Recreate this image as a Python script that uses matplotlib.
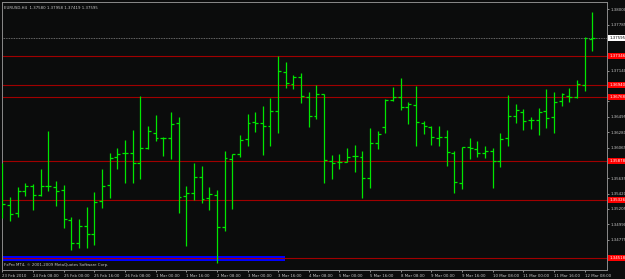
import matplotlib.pyplot as plt
import matplotlib.transforms as mtransforms
from matplotlib.patches import Rectangle

# EURUSD H4 bars, 23 Feb 2010 16:00 .. 12 Mar 2010
opens = [1.35162, 1.35260, 1.35148, 1.35456, 1.35526, 1.35400, 1.35526, 1.35512, 1.35470, 1.35050,
         1.34728, 1.34966, 1.34854, 1.35316, 1.35540, 1.35932, 1.35988, 1.35988, 1.35848, 1.36058,
         1.36268, 1.36198, 1.36198, 1.36408, 1.35386, 1.35428, 1.35652, 1.35358, 1.35400, 1.34952,
         1.35904, 1.35974, 1.36184, 1.36422, 1.36408, 1.36366, 1.36576, 1.37122, 1.36954, 1.37052,
         1.36772, 1.36506, 1.36814, 1.35876, 1.35862, 1.35862, 1.35946, 1.35932, 1.35638, 1.36128,
         1.36352, 1.36730, 1.36772, 1.36632, 1.36660, 1.36408, 1.36352, 1.36198, 1.36212, 1.35988,
         1.35568, 1.36072, 1.36044, 1.35988, 1.36016, 1.35876, 1.36198, 1.36506, 1.36562, 1.36450,
         1.36450, 1.36576, 1.36492, 1.36716, 1.36786, 1.36772, 1.36940, 1.37580]
highs = [1.35848, 1.35372, 1.35512, 1.35568, 1.35554, 1.35764, 1.36296, 1.35596, 1.35540, 1.35092,
         1.35064, 1.35232, 1.35442, 1.35764, 1.35988, 1.36058, 1.36170, 1.36310, 1.36786, 1.36366,
         1.36520, 1.36212, 1.36562, 1.36492, 1.35526, 1.35848, 1.35806, 1.35512, 1.35470, 1.36016,
         1.35974, 1.36240, 1.36534, 1.36562, 1.36646, 1.36758, 1.37346, 1.37262, 1.37080, 1.37108,
         1.36842, 1.36940, 1.36814, 1.35960, 1.35974, 1.36058, 1.36100, 1.36016, 1.36338, 1.36296,
         1.36744, 1.36912, 1.37038, 1.36702, 1.36926, 1.36436, 1.36366, 1.36366, 1.36310, 1.36016,
         1.36072, 1.36198, 1.36156, 1.36086, 1.36058, 1.36268, 1.36800, 1.36674, 1.36604, 1.36492,
         1.36618, 1.36884, 1.36842, 1.36828, 1.36898, 1.37010, 1.37612, 1.37958]
lows = [1.35078, 1.35036, 1.35092, 1.35386, 1.35190, 1.35386, 1.35456, 1.35246, 1.34938, 1.34630,
        1.34658, 1.34658, 1.34700, 1.35218, 1.35358, 1.35764, 1.35568, 1.35568, 1.35624, 1.36044,
        1.36156, 1.35946, 1.35904, 1.35148, 1.34686, 1.35330, 1.35288, 1.35190, 1.34448, 1.34896,
        1.35204, 1.35932, 1.36086, 1.36282, 1.35960, 1.36086, 1.36268, 1.36898, 1.36884, 1.36688,
        1.36352, 1.36464, 1.35568, 1.35624, 1.35764, 1.35862, 1.35722, 1.35358, 1.35498, 1.36044,
        1.36268, 1.36716, 1.36590, 1.36394, 1.36086, 1.36254, 1.36100, 1.36086, 1.35806, 1.35428,
        1.35484, 1.35904, 1.35932, 1.35918, 1.35498, 1.35792, 1.36086, 1.36408, 1.36310, 1.36324,
        1.36240, 1.36338, 1.36268, 1.36646, 1.36702, 1.36758, 1.36856, 1.37419]
closes = [1.35274, 1.35134, 1.35456, 1.35526, 1.35400, 1.35526, 1.35526, 1.35456, 1.35064, 1.34728,
          1.34966, 1.34854, 1.35302, 1.35526, 1.35918, 1.35974, 1.35988, 1.35848, 1.36058, 1.36296,
          1.36198, 1.36198, 1.36394, 1.35372, 1.35428, 1.35652, 1.35344, 1.35414, 1.34952, 1.35918,
          1.35974, 1.36170, 1.36408, 1.36408, 1.36366, 1.36576, 1.37136, 1.36968, 1.37052, 1.36786,
          1.36506, 1.36814, 1.35890, 1.35848, 1.35862, 1.35932, 1.35946, 1.35638, 1.36128, 1.36254,
          1.36730, 1.36772, 1.36632, 1.36674, 1.36422, 1.36366, 1.36212, 1.36212, 1.36002, 1.35582,
          1.36072, 1.36058, 1.35988, 1.36016, 1.35876, 1.36184, 1.36506, 1.36590, 1.36436, 1.36450,
          1.36562, 1.36478, 1.36702, 1.36814, 1.36772, 1.36954, 1.37598, 1.37595]

time_labels = ["23 Feb 2010", "24 Feb 08:00", "25 Feb 00:00", "25 Feb 16:00", "26 Feb 08:00",
               "1 Mar 00:00", "1 Mar 16:00", "2 Mar 08:00", "3 Mar 00:00", "3 Mar 16:00",
               "4 Mar 08:00", "5 Mar 00:00", "5 Mar 16:00", "8 Mar 08:00", "9 Mar 00:00",
               "9 Mar 16:00", "10 Mar 08:00", "11 Mar 00:00", "11 Mar 16:00", "12 Mar 08:00"]

red_levels = [1.37346, 1.36940, 1.36768, 1.35878, 1.35326, 1.34518]
current_price = 1.37595
price_ticks = [1.38000, 1.37785, 1.37570, 1.37355, 1.37140, 1.36925, 1.36710, 1.36495, 1.36280,
               1.36065, 1.35850, 1.35635, 1.35420, 1.35205, 1.34990, 1.34775, 1.34560]
# blue band (indicator) : from bar, to bar, low, high
blue_start, blue_end, blue_low, blue_high = -0.05, 36.9, 1.34476, 1.34546

bg = '#0b0c0c'
fg = '#c8c8c8'
fs = 2.8

fig = plt.figure(figsize=(6.25, 2.79), dpi=100)
fig.patch.set_facecolor(bg)
ax = fig.add_axes([2/625, 1 - 270/279, 605/625, 268/279])
ax.set_facecolor(bg)

x = list(range(len(opens)))
bar_col = '#00e600'
ax.vlines(x, lows, highs, color=bar_col, lw=0.9, zorder=3)
ax.hlines(opens, [i - 0.38 for i in x], x, color=bar_col, lw=0.9, zorder=3)
ax.hlines(closes, x, [i + 0.38 for i in x], color=bar_col, lw=0.9, zorder=3)

ax.add_patch(Rectangle((blue_start, blue_low), blue_end - blue_start, blue_high - blue_low,
                       facecolor='#0000ff', edgecolor='none', zorder=2))

for lv in red_levels:
    ax.axhline(lv, color='#a00000', lw=0.8, zorder=2.5)
ax.axhline(current_price, color='#8a8a8a', lw=0.6, ls=(0, (1, 1)), zorder=2.5)

ax.set_xlim(-0.05, 78.93)
ax.set_ylim(1.34350, 1.38102)

# tick labels hidden where a level box sits on top of them
boxed = red_levels + [current_price]
tick_txt = [f"{p:.5f}" if min(abs(p - b) for b in boxed) > 0.0007 else "" for p in price_ticks]

ax.yaxis.tick_right()
ax.set_yticks(price_ticks, tick_txt)
ax.set_xticks(x[::4], time_labels, ha='left')
ax.tick_params(colors=fg, labelsize=fs, length=1.5, width=0.5, pad=0.8)
ax.tick_params(axis='x', pad=1.2)
for sp in ax.spines.values():
    sp.set_color('#8a8a8a')
    sp.set_linewidth(0.7)

trans = mtransforms.blended_transform_factory(ax.transAxes, ax.transData)
for lv in red_levels:
    ax.text(1.004, lv, f"{lv:.5f}", transform=trans, fontsize=fs, color='white',
            ha='left', va='center', clip_on=False, zorder=10,
            bbox=dict(boxstyle='square,pad=0.3', fc='#ff0000', ec='none'))
ax.text(1.004, current_price, f"{current_price:.5f}", transform=trans, fontsize=fs,
        color='black', ha='left', va='center', clip_on=False, zorder=10,
        bbox=dict(boxstyle='square,pad=0.3', fc='white', ec='none'))

ax.text(0.003, 0.985, "EURUSD,H4  1.37580 1.37958 1.37419 1.37595", transform=ax.transAxes,
        fontsize=fs, color=fg, ha='left', va='top')
ax.text(0.003, 0.012, "FxPro MT4, \u00a9 2001-2009 MetaQuotes Software Corp.", transform=ax.transAxes,
        fontsize=fs, color=fg, ha='left', va='bottom')

fig.savefig('out.png', dpi=100, facecolor=bg)
